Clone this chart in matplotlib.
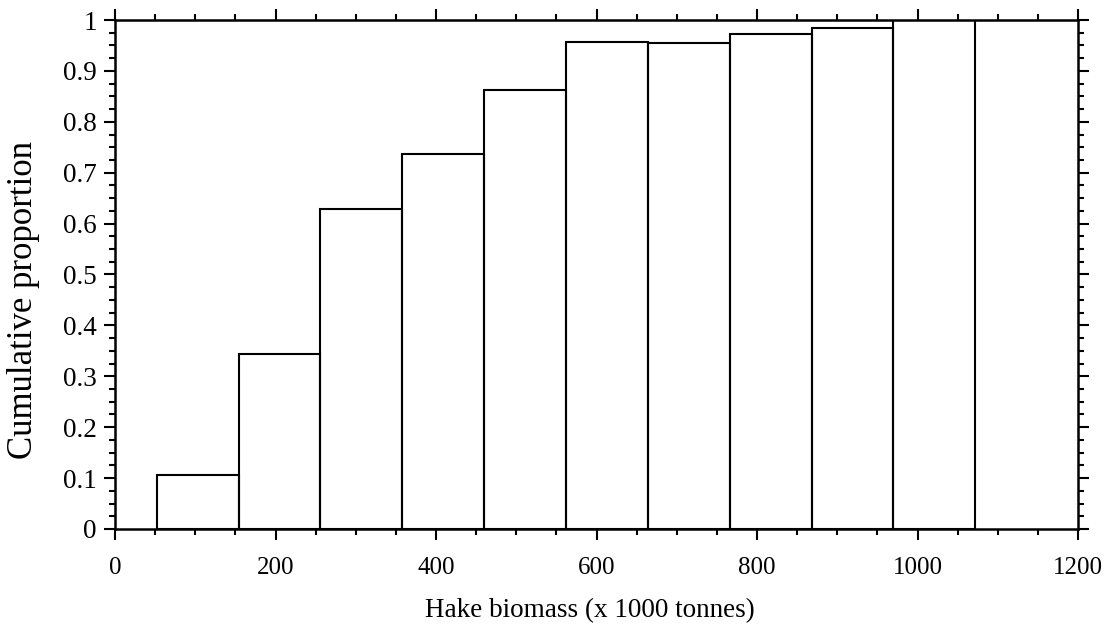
import matplotlib.pyplot as plt
from matplotlib.ticker import MultipleLocator, FuncFormatter

# Cumulative proportion of hake biomass estimates per bin
bin_left = [52, 154, 256, 358, 460, 562, 664, 766, 868, 970]
bin_width = 102
cum_prop = [0.106, 0.343, 0.628, 0.737, 0.863, 0.956, 0.955, 0.973, 0.984, 1.0]

plt.rcParams.update({
    'font.family': 'Liberation Serif',
    'font.size': 18,
    'axes.linewidth': 1.8,
})

fig = plt.figure(figsize=(11.13, 6.37), dpi=100)
ax = fig.add_axes([115 / 1113, 1 - 529 / 637, 963 / 1113, 509 / 637])

ax.bar(bin_left, cum_prop, width=bin_width, align='edge',
       fill=False, edgecolor='black', linewidth=1.5)

ax.set_xlim(0, 1200)
ax.set_ylim(0, 1)
ax.xaxis.set_major_locator(MultipleLocator(200))
ax.xaxis.set_minor_locator(MultipleLocator(50))
ax.yaxis.set_major_locator(MultipleLocator(0.1))
ax.yaxis.set_minor_locator(MultipleLocator(0.025))
ax.yaxis.set_major_formatter(FuncFormatter(lambda v, p: f'{v:g}'))

ax.tick_params(which='both', direction='out', top=True, right=True,
               labeltop=False, labelright=False, width=1.5)
ax.tick_params(which='major', length=8)
ax.tick_params(which='minor', length=4)
ax.tick_params(axis='x', which='major', pad=12, labelsize=18)
ax.tick_params(axis='y', which='major', pad=5, labelsize=19.5)

ax.set_xlabel('Hake biomass (x 1000 tonnes)', fontsize=19.5)
ax.set_ylabel('Cumulative proportion', fontsize=25)
ax.xaxis.set_label_coords(0.493, -0.136)
ax.yaxis.set_label_coords(-0.078, 0.45)

fig.savefig('out.png', dpi=100, facecolor='white')
